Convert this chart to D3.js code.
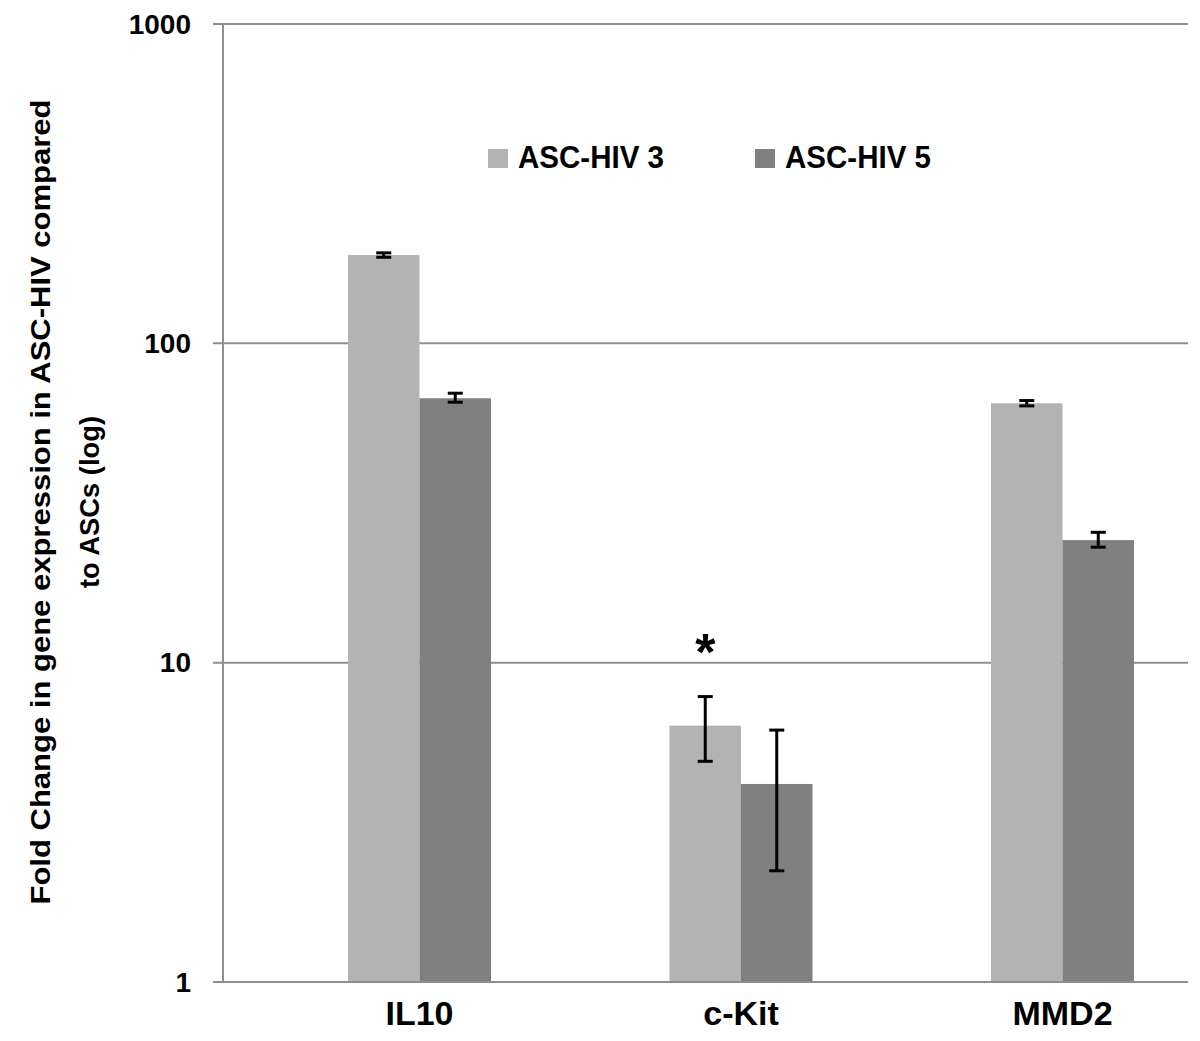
<!DOCTYPE html>
<html><head><meta charset="utf-8">
<script src="https://cdn.jsdelivr.net/npm/d3@7"></script>
<style>body{margin:0;background:#fff}svg{display:block;font-family:"Liberation Sans",Arial,sans-serif;font-weight:bold}</style>
</head><body><svg id="c" width="1200" height="1041"></svg>
<script>
const categories = ["IL10", "c-Kit", "MMD2"];
const seriesNames = ["ASC-HIV 3", "ASC-HIV 5"];
const hiv3 = [189, 6.35, 64.9];
const hiv5 = [67.3, 4.17, 24.2];
const hiv3Low = [186, 4.91, 63.7];
const hiv3High = [192, 7.83, 66.2];
const hiv5Low = [65.4, 2.23, 23.0];
const hiv5High = [69.8, 6.15, 25.6];
const yTicks = [1, 10, 100, 1000];
const colors = ["#b3b3b3", "#808080"];

const svg = d3.select("#c");
const y = d3.scaleLog().domain([1, 1000]).range([982, 24]);
const x = d3.scaleBand().domain(categories).range([258.75, 1223.25]).paddingInner(0).paddingOuter(0);
const bw = 71.5;

// gridlines
svg.append("g").selectAll("line").data(yTicks.slice(1)).join("line")
  .attr("x1", 213).attr("x2", 1188).attr("y1", d => y(d)).attr("y2", d => y(d))
  .attr("stroke", "#8e8e8e").attr("stroke-width", 2);

// bars
const series = [hiv3, hiv5];
const lows = [hiv3Low, hiv5Low], highs = [hiv3High, hiv5High];
series.forEach((vals, s) => {
  svg.append("g").selectAll("rect").data(categories).join("rect")
    .attr("x", (c) => x(c) + x.bandwidth()/2 - bw + s*bw)
    .attr("width", bw)
    .attr("y", (c, i) => y(vals[i]))
    .attr("height", (c, i) => y(1) - y(vals[i]))
    .attr("fill", colors[s]);
});

// axes lines
svg.append("line").attr("x1", 223).attr("x2", 223).attr("y1", 24).attr("y2", 982).attr("stroke", "#8e8e8e").attr("stroke-width", 2);
svg.append("line").attr("x1", 213).attr("x2", 1188).attr("y1", 982).attr("y2", 982).attr("stroke", "#8e8e8e").attr("stroke-width", 2);

// error bars
series.forEach((vals, s) => {
  const g = svg.append("g").attr("stroke", "#000").attr("stroke-width", 3);
  categories.forEach((c, i) => {
    const cx = x(c) + x.bandwidth()/2 - bw/2 + s*bw;
    const y1 = y(highs[s][i]), y2 = y(lows[s][i]);
    g.append("line").attr("x1", cx).attr("x2", cx).attr("y1", y1).attr("y2", y2);
    g.append("line").attr("x1", cx-7.5).attr("x2", cx+7.5).attr("y1", y1).attr("y2", y1);
    g.append("line").attr("x1", cx-7.5).attr("x2", cx+7.5).attr("y1", y2).attr("y2", y2);
  });
});

// asterisk
svg.append("text").attr("x", x("c-Kit") + x.bandwidth()/2 - bw/2).attr("y", 670)
  .attr("text-anchor", "middle").attr("font-size", 52).text("*");

// y tick labels
svg.append("g").selectAll("text").data(yTicks).join("text")
  .attr("x", 191).attr("y", d => y(d)).attr("dy", "0.35em")
  .attr("text-anchor", "end").attr("font-size", 28).text(d => d);

// x labels
svg.append("g").selectAll("text").data(categories).join("text")
  .attr("x", c => x(c) + x.bandwidth()/2).attr("y", 1025)
  .attr("text-anchor", "middle").attr("font-size", 34).text(c => c);

// legend
const lx = [488, 755];
seriesNames.forEach((n, s) => {
  svg.append("rect").attr("x", lx[s]).attr("y", 149).attr("width", 20).attr("height", 19).attr("fill", colors[s]);
  svg.append("text").attr("x", lx[s] + 30).attr("y", 168).attr("font-size", 31)
    .attr("textLength", 146).attr("lengthAdjust", "spacingAndGlyphs").text(n);
});

// y title
const t = svg.append("text").attr("transform", "translate(0,502) rotate(-90)").attr("text-anchor", "middle").attr("font-size", 28);
t.append("tspan").attr("x", 0).attr("y", 50).attr("textLength", 805).attr("lengthAdjust", "spacingAndGlyphs").text("Fold Change in gene expression  in ASC-HIV compared");
t.append("tspan").attr("x", 0).attr("y", 99).attr("textLength", 172).attr("lengthAdjust", "spacingAndGlyphs").text("to ASCs (log)");
</script></body></html>
